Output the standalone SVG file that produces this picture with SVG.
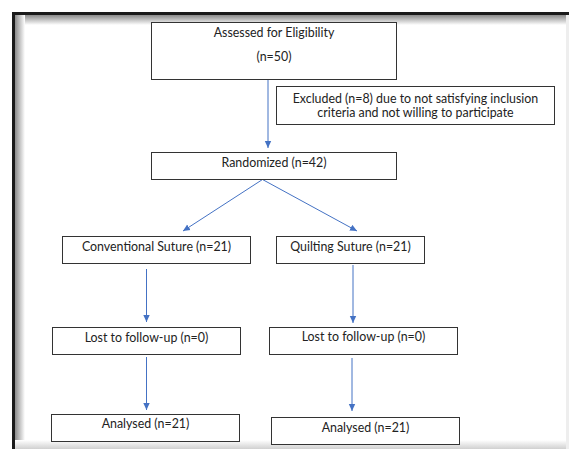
<svg xmlns="http://www.w3.org/2000/svg" width="569" height="449" viewBox="0 0 569 449">
<defs>
<linearGradient id="gTop" x1="0" y1="0" x2="0" y2="1"><stop offset="0" stop-color="#8a8a8a"/><stop offset="1" stop-color="#ffffff"/></linearGradient>
<linearGradient id="gLeft" x1="0" y1="0" x2="1" y2="0"><stop offset="0" stop-color="#8a8a8a"/><stop offset="1" stop-color="#ffffff"/></linearGradient>
<linearGradient id="gBot" x1="0" y1="0" x2="0" y2="1"><stop offset="0" stop-color="#ffffff"/><stop offset="1" stop-color="#d0d0d0"/></linearGradient>
<marker id="ah" markerWidth="8" markerHeight="8" refX="7" refY="4" orient="auto" markerUnits="userSpaceOnUse"><path d="M0,0.8 L7,4 L0,7.2 Z" fill="#4472C4"/></marker>
</defs>
<style>
.box{fill:#fff;stroke:#333;stroke-width:1}
.t{font-family:Lato,"Open Sans","Liberation Sans",sans-serif;font-size:12.4px;fill:#222;text-anchor:middle}
.c{stroke:#4472C4;stroke-width:1;fill:none;marker-end:url(#ah)}
</style>
<rect x="0" y="0" width="569" height="449" fill="#fff"/>
<g id="frame">
<rect x="15" y="15" width="554" height="10" fill="url(#gTop)"/>
<rect x="15" y="15" width="10" height="434" fill="url(#gLeft)"/>
<rect x="12" y="440" width="557" height="9" fill="url(#gBot)"/>
<rect x="12" y="12" width="557" height="3" fill="#1a1a1a"/>
<rect x="12" y="12" width="3" height="437" fill="#1a1a1a"/>
<rect x="566" y="15" width="3" height="434" fill="#eeeeee"/>
</g>
<g id="connectors">
<line class="c" x1="268" y1="80" x2="268" y2="148"/>
<line class="c" x1="262.5" y1="179.5" x2="183" y2="231"/>
<line class="c" x1="262.5" y1="179.5" x2="357" y2="231"/>
<line class="c" x1="146.5" y1="269" x2="146.5" y2="322"/>
<line class="c" x1="353" y1="265" x2="353" y2="323"/>
<line class="c" x1="146.5" y1="357" x2="146.5" y2="410"/>
<line class="c" x1="352" y1="358" x2="352" y2="411"/>
</g>
<g id="assessed"><rect class="box" x="151.5" y="22.5" width="245" height="57"/><text class="t" x="274" y="37">Assessed for Eligibility</text><text class="t" x="274" y="61">(n=50)</text></g>
<g id="excluded"><rect class="box" x="276.5" y="86.5" width="278" height="38"/><text class="t" x="415.5" y="103">Excluded (n=8) due to not satisfying inclusion</text><text class="t" x="415.5" y="117">criteria and not willing to participate</text></g>
<g id="randomized"><rect class="box" x="151.5" y="152.5" width="245" height="27"/><text class="t" x="274" y="167">Randomized (n=42)</text></g>
<g id="conventional"><rect class="box" x="62.5" y="236.5" width="188" height="27"/><text class="t" x="156.5" y="251">Conventional Suture (n=21)</text></g>
<g id="quilting"><rect class="box" x="276.5" y="236.5" width="148" height="27"/><text class="t" x="350.5" y="251">Quilting Suture (n=21)</text></g>
<g id="lost1"><rect class="box" x="52.5" y="327.5" width="188" height="27"/><text class="t" x="146.5" y="342">Lost to follow-up (n=0)</text></g>
<g id="lost2"><rect class="box" x="269.5" y="327.5" width="188" height="27"/><text class="t" x="363.5" y="341">Lost to follow-up (n=0)</text></g>
<g id="analysed1"><rect class="box" x="51.5" y="414.5" width="188" height="27"/><text class="t" x="145.5" y="428">Analysed (n=21)</text></g>
<g id="analysed2"><rect class="box" x="271.5" y="417.5" width="188" height="27"/><text class="t" x="365.5" y="432">Analysed (n=21)</text></g>
</svg>
